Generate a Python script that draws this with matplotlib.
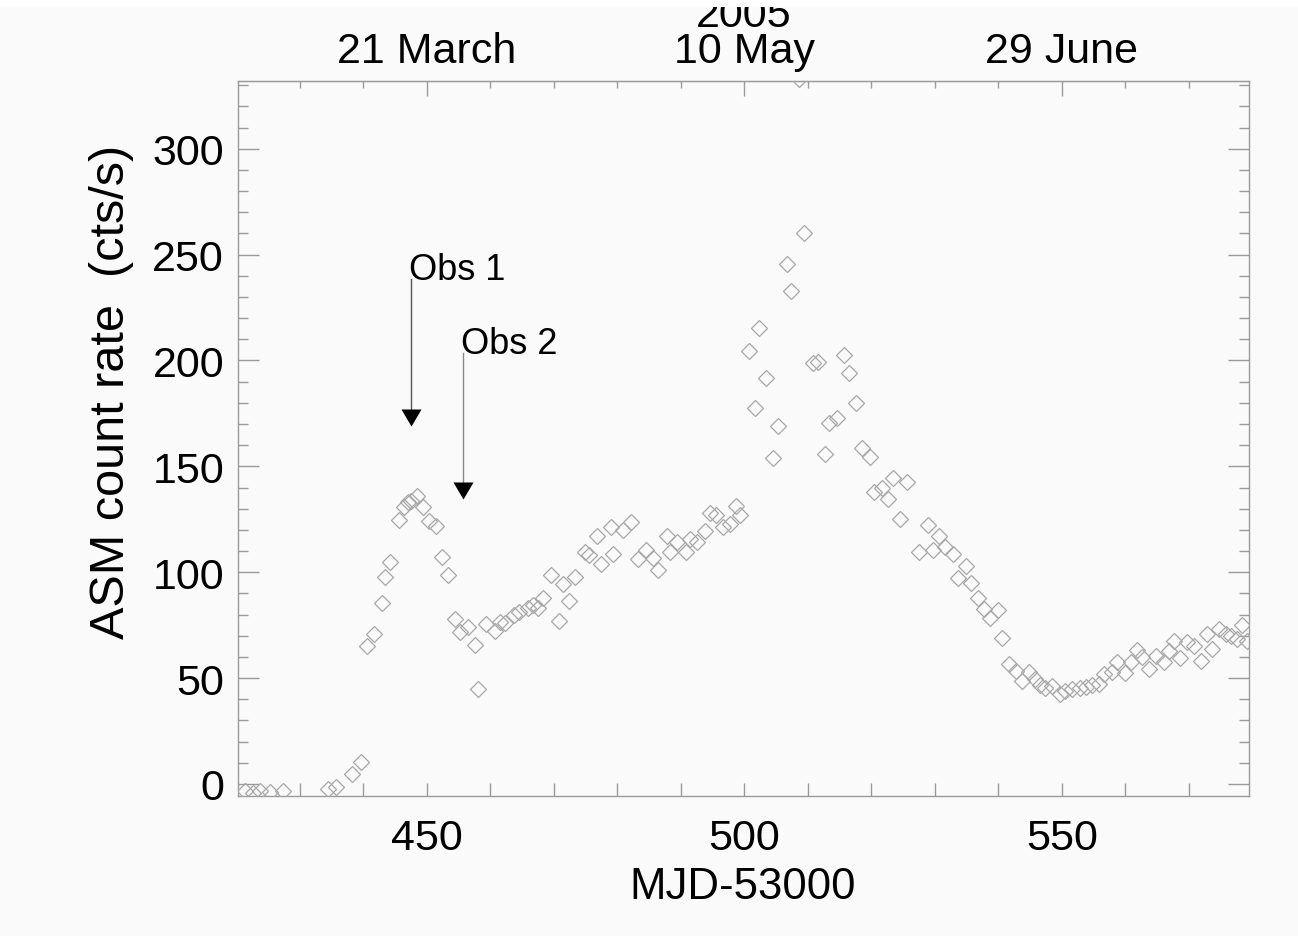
import matplotlib
matplotlib.use("Agg")
import matplotlib.pyplot as plt
import matplotlib.transforms as mtrans
from matplotlib.patches import Rectangle
from matplotlib.ticker import MultipleLocator, FixedLocator

plt.rcParams['font.family'] = ['Liberation Sans', 'DejaVu Sans']

# ---- data (MJD-53000, ASM count rate) ----
mjd = [421.4, 422.7, 423.7, 425.3, 427.4,
       434.4, 435.8, 438.3, 439.7, 440.6, 441.7, 442.9, 443.4, 444.3, 445.7,
       446.4, 447.1, 447.6, 448.5, 449.5, 450.4, 451.5, 452.5, 453.4, 454.5,
       455.3, 456.5, 457.6, 458.1, 459.4, 460.7, 461.5, 462.4, 463.7, 464.5,
       465.9, 466.7, 467.5, 468.3, 469.6, 470.8, 471.5, 472.5, 473.3, 474.9,
       475.6, 476.9, 477.5, 479.0, 479.4, 480.9, 482.2, 483.3, 484.5, 485.7,
       486.5, 487.8, 488.4, 489.4, 490.8, 491.4, 492.5, 493.8, 494.6, 495.6,
       496.7, 497.7, 498.7, 499.4,
       500.8, 501.7, 502.4, 503.4, 504.6, 505.4, 506.7, 507.4, 508.7, 509.4,
       510.8, 511.7, 512.8, 513.4, 514.7, 515.8, 516.5, 517.6, 518.6, 519.8,
       520.5, 521.7, 522.7, 523.4, 524.6, 525.7, 527.5, 529.0, 529.7, 530.7,
       531.7, 532.9, 533.7, 534.9, 535.8, 536.9, 537.7, 538.7, 539.9, 540.6,
       541.7, 542.8, 543.7, 544.9, 545.8, 546.6, 547.4, 548.5, 549.8, 550.6,
       551.6, 552.9, 553.8, 554.7, 555.9, 556.7, 557.9, 558.7, 559.9, 560.9,
       561.8, 562.7, 563.7, 564.8, 566.1, 566.9, 567.7, 568.7, 569.8, 570.8,
       571.9, 572.9, 573.7, 574.8, 575.8, 576.6, 577.6, 578.4, 579.2]
rate = [-3.2, -4.5, -3.5, -3.8, -3.2,
        -2.5, -1.5, 4.7, 10.5, 65.3, 70.7, 85.3, 97.8, 105.0, 124.7,
        131.0, 133.3, 133.7, 135.8, 130.9, 124.3, 121.6, 107.0, 98.9, 77.9,
        71.9, 74.0, 65.8, 44.9, 75.6, 72.4, 76.7, 76.0, 79.8, 81.4,
        83.0, 84.6, 83.0, 87.6, 98.7, 77.0, 94.5, 86.2, 97.8, 109.4,
        108.2, 117.3, 103.9, 121.2, 108.6, 120.0, 123.8, 106.3, 110.7, 106.6,
        101.1, 117.3, 109.7, 114.4, 109.7, 115.7, 114.4, 119.6, 127.8, 127.1,
        121.2, 122.8, 131.4, 127.1,
        204.6, 177.4, 215.2, 191.7, 153.9, 169.2, 245.6, 232.7, 333.0, 260.0,
        198.9, 199.4, 155.9, 170.3, 172.7, 202.7, 194.0, 179.7, 158.5, 154.5,
        137.7, 139.6, 134.6, 144.3, 125.2, 142.7, 109.4, 122.5, 110.5, 117.2,
        111.7, 108.6, 97.3, 102.7, 94.7, 87.8, 82.6, 78.4, 82.2, 68.8,
        56.7, 53.2, 48.8, 52.7, 49.6, 46.8, 45.1, 46.4, 42.5, 44.0,
        44.9, 45.1, 45.6, 46.8, 47.2, 52.0, 52.7, 57.4, 52.4, 57.4,
        63.4, 59.8, 54.3, 60.6, 57.4, 63.0, 67.7, 59.4, 66.9, 65.3,
        57.9, 70.8, 63.8, 73.2, 70.9, 70.0, 68.5, 75.1, 67.7]

# observation markers
obs_labels = ["Obs 1", "Obs 2"]
obs_mjd = [447.6, 455.8]
obs_top = [238.5, 203.6]
obs_head = [177.0, 142.4]
obs_colors = ["#555555", "#8a8a8a"]

# top axis date labels
top_ticks = [450, 500, 550]
top_labels = ["21 March", "10 May", "29 June"]
year_label = "2005"
year_mjd = 500

bottom_ticks = [450, 500, 550]
y_ticks = [0, 50, 100, 150, 200, 250, 300]

W, H = 1298, 937
bg = "#fafafa"
gray = "#9a9a9a"

fig = plt.figure(figsize=(W / 100, H / 100), dpi=100, facecolor=bg)
ax = fig.add_axes([238 / W, 1 - 797 / H, (1249 - 238) / W, (797 - 82) / H])
ax.set_facecolor(bg)

ax.plot(mjd, rate, linestyle='none', marker='D', markersize=8.4,
        markerfacecolor='none', markeredgecolor='#a8a8a8', markeredgewidth=0.9,
        zorder=3)

ax.set_xlim(420.3, 579.5)
ax.set_ylim(-5.7, 332)

for s in ax.spines.values():
    s.set_color(gray)
    s.set_linewidth(1.0)

# bottom axis
ax.xaxis.set_major_locator(FixedLocator(bottom_ticks))
ax.xaxis.set_minor_locator(MultipleLocator(10))
ax.tick_params(axis='x', which='both', direction='in', length=9.4, width=1.0,
               color=gray, labelsize=31, pad=16, top=False)
# left/right axis
ax.yaxis.set_major_locator(FixedLocator(y_ticks))
ax.yaxis.set_minor_locator(MultipleLocator(10))
ax.tick_params(axis='y', which='major', direction='in', length=15, width=1.0,
               color=gray, labelsize=31, pad=10, right=True)
ax.tick_params(axis='y', which='minor', direction='in', length=7.2, width=1.0,
               color=gray, right=True)

ax.set_xlabel("MJD-53000", fontsize=31.5, va='baseline')
ax.xaxis.set_label_coords((742.5 - 238) / 1011, -(899 - 797) / 715)
ax.set_ylabel("ASM count rate  (cts/s)", fontsize=35, va='baseline')
ax.yaxis.set_label_coords((124 - 238) / 1011, (797 - 392) / 715)

# top axis
top = ax.secondary_xaxis('top')
top.xaxis.set_major_locator(FixedLocator(top_ticks))
top.set_xticklabels(top_labels)
top.xaxis.set_minor_locator(MultipleLocator(10))
top.tick_params(axis='x', which='major', direction='in', length=10.8, width=1.0,
                color=gray, labelsize=31, pad=7)
top.tick_params(axis='x', which='minor', direction='in', length=5, width=1.0,
                color=gray)
top.spines['top'].set_color(gray)

blend = mtrans.blended_transform_factory(ax.transData, ax.transAxes)
ax.text(year_mjd, 1 + (82 - 27) / 715, year_label, transform=blend,
        ha='center', va='baseline', fontsize=31, clip_on=False, zorder=1)

# observation arrows
head_verts = [(-1, 0), (1, 0), (0, -1.7), (-1, 0)]
for lab, xm, yt, yh, c in zip(obs_labels, obs_mjd, obs_top, obs_head, obs_colors):
    ax.plot([xm, xm], [yt, yh], color=c, linewidth=1.0, zorder=4)
    ax.plot([xm], [yh], linestyle='none', marker=head_verts, markersize=24.5,
            color='black', markeredgewidth=0, zorder=5)
    ax.text(xm - 0.4, yt, lab, fontsize=26, ha='left', va='baseline', zorder=5)

# white strip at very top (cropped original)
fig.patches.append(Rectangle((0, 1 - 8 / H), 1, 8 / H, transform=fig.transFigure,
                             facecolor='white', edgecolor='none', zorder=50))

fig.savefig("out.png", dpi=100, facecolor=bg)
